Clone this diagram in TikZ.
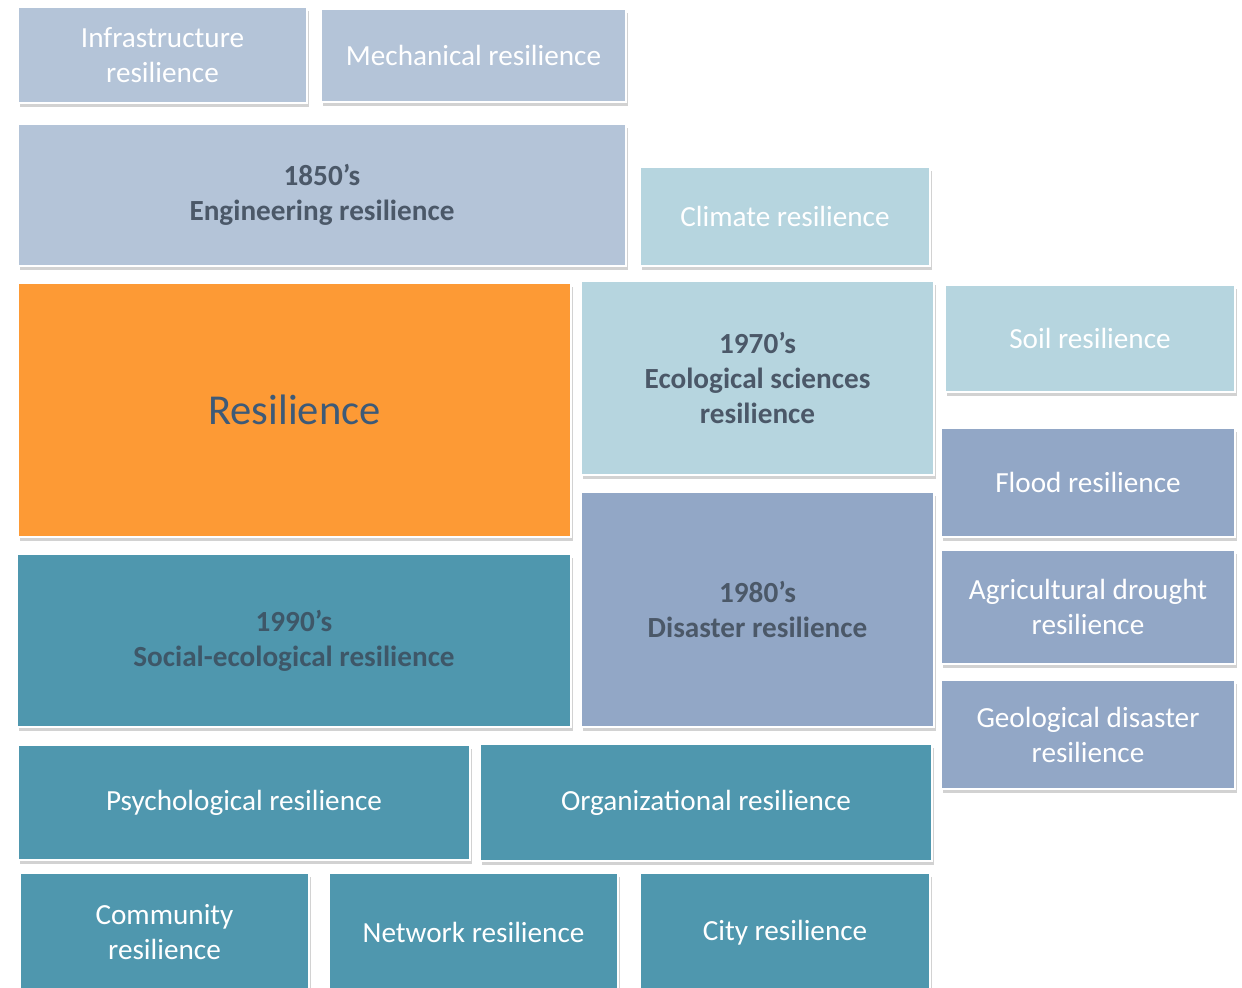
\documentclass[tikz,border=0pt]{standalone}
\usepackage{fontspec}
\setmainfont{Carlito}
\usetikzlibrary{fit,shadows}
\definecolor{steel}{HTML}{B4C4D8}
\definecolor{ltteal}{HTML}{B6D5DF}
\definecolor{bgray}{HTML}{92A7C6}
\definecolor{teal}{HTML}{4F97AE}
\definecolor{orng}{HTML}{FD9A35}
\definecolor{dtext}{HTML}{4B5868}
\definecolor{rtext}{HTML}{3D5A78}
\definecolor{stext}{HTML}{3E5768}
\tikzset{
  box/.style={draw=white, line width=1pt, inner sep=0pt,
    drop shadow={shadow xshift=1pt, shadow yshift=-2pt, opacity=0.25, fill=black!70}},
  txt/.style={align=center, text=white, inner sep=0pt,
    font=\fontsize{14.6}{17.5}\selectfont},
  era/.style={txt, font=\fontsize{14.6}{17.5}\selectfont\bfseries, text=dtext},
}
\begin{document}
\begin{tikzpicture}[x=0.5pt,y=-0.5pt]
\useasboundingbox[fill=white] (0,0) rectangle (1242,987);
\begin{scope}
\clip (0,0) rectangle (1242,987);
\node[box, fill=steel, fit={(18,7) (307,103)}] (infra) {};
\node[txt] (infraT) at (infra.center) {Infrastructure\\resilience};
\node[box, fill=steel, fit={(321,9) (626,102)}] (mech) {};
\node[txt] (mechT) at (mech.center) {Mechanical resilience};
\node[box, fill=steel, fit={(18,124) (626,266)}] (eng) {};
\node[era] (engT) at (eng.center) {1850’s\\Engineering resilience};
\node[box, fill=ltteal, fit={(640,167) (930,266)}] (clim) {};
\node[txt] (climT) at (clim.center) {Climate resilience};
\node[box, fill=orng, fit={(18,283) (571,537)}] (res) {};
\node[txt, font=\fontsize{21.3}{24}\selectfont, text=rtext] (resT) at (res.center) {Resilience};
\node[box, fill=ltteal, fit={(581,281) (934,475)}] (eco) {};
\node[era] (ecoT) at (eco.center) {1970’s\\Ecological sciences\\resilience};
\node[box, fill=ltteal, fit={(945,285) (1235,392)}] (soil) {};
\node[txt] (soilT) at (soil.center) {Soil resilience};
\node[box, fill=bgray, fit={(941,428) (1235,537)}] (flood) {};
\node[txt] (floodT) at (flood.center) {Flood resilience};
\node[box, fill=teal, fit={(17,554) (571,727)}] (soc) {};
\node[era, text=stext] (socT) at (soc.center) {1990’s\\Social-ecological resilience};
\node[box, fill=bgray, fit={(581,492) (934,727)}] (dis) {};
\node[era] (disT) at (dis.center) {1980’s\\Disaster resilience};
\node[box, fill=bgray, fit={(941,550) (1235,664)}] (agri) {};
\node[txt] (agriT) at (agri.center) {Agricultural drought\\resilience};
\node[box, fill=bgray, fit={(941,680) (1235,789)}] (geo) {};
\node[txt] (geoT) at (geo.center) {Geological disaster\\resilience};
\node[box, fill=teal, fit={(18,745) (470,860)}] (psy) {};
\node[txt] (psyT) at (psy.center) {Psychological resilience};
\node[box, fill=teal, fit={(480,744) (932,861)}] (org) {};
\node[txt] (orgT) at (org.center) {Organizational resilience};
\node[box, fill=teal, fit={(20,873) (309,991)}] (comm) {};
\node[txt] (commT) at (comm.center) {Community\\resilience};
\node[box, fill=teal, fit={(329,873) (618,991)}] (net) {};
\node[txt] (netT) at (net.center) {Network resilience};
\node[box, fill=teal, fit={(640,873) (930,993)}] (city) {};
\node[txt] (cityT) at (city.center) {City resilience};
\end{scope}
\end{tikzpicture}
\end{document}
